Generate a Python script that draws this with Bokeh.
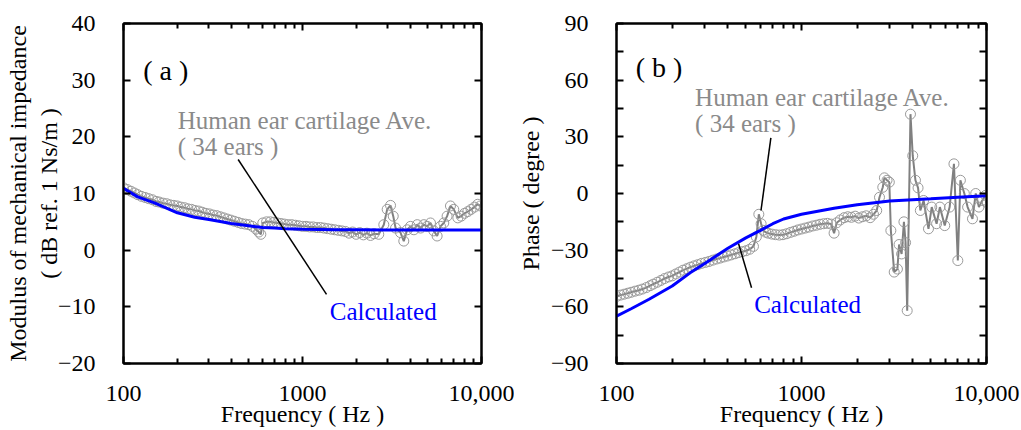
from bokeh.plotting import figure
from bokeh.layouts import row
from bokeh.models import LinearAxis, LogAxis, FixedTicker, Label, Range1d, CustomJSTickFormatter
from bokeh.embed import file_html
from bokeh.resources import INLINE

FONT = "Liberation Serif"

# ---------------- data ----------------
# (a) modulus of mechanical impedance, measured average (34 ears)
meas_a_freq = [100, 105, 110, 115, 120, 126, 132, 138, 145, 152, 158, 166, 174, 182, 191,
               200, 209, 219, 229, 240, 251, 263, 275, 288, 302, 316, 331, 347, 363, 380,
               398, 417, 437, 457, 479, 501, 525, 550, 570, 585, 600, 630, 661, 692, 724,
               759, 794, 832, 871, 912, 955, 1000, 1047, 1096, 1148, 1202, 1259, 1318, 1380,
               1445, 1514, 1585, 1660, 1738, 1820, 1905, 1995, 2089, 2188, 2291, 2399, 2512,
               2667, 2846, 2972, 3103, 3213, 3311, 3527, 3680, 3845, 4012, 4190, 4375, 4565,
               4765, 4970, 5188, 5417, 5650, 5900, 6155, 6425, 6707, 6998, 7376, 7697, 8035,
               8380, 8747, 9131, 9527, 9860]
meas_a_db = [11.0, 10.7, 10.4, 10.1, 9.8, 9.5, 9.3, 9.1, 8.9, 8.6, 8.5, 8.3, 8.2, 8.0, 7.9,
             7.8, 7.6, 7.5, 7.3, 7.2, 7.0, 6.9, 6.7, 6.5, 6.4, 6.2, 6.1, 5.9, 5.7, 5.5,
             5.3, 5.1, 4.9, 4.7, 4.6, 4.5, 4.2, 3.7, 3.2, 2.8, 4.8, 5.0, 5.0, 4.9, 4.8,
             4.7, 4.6, 4.5, 4.5, 4.4, 4.3, 4.2, 4.2, 4.1, 4.1, 4.0, 4.0, 3.9, 3.8,
             3.7, 3.6, 3.5, 3.4, 3.3, 3.0, 3.2, 2.8, 3.1, 2.7, 3.0, 2.6, 2.9,
             2.8, 4.5, 7.2, 7.9, 6.0, 3.9, 3.1, 1.6, 3.6, 4.2, 3.6, 4.5, 3.9,
             4.5, 4.2, 4.8, 3.4, 2.5, 4.2, 4.8, 6.0, 7.8, 7.2, 5.7, 6.0, 6.5,
             6.8, 7.2, 7.6, 8.1, 7.8]

# (b) phase, measured average (34 ears)
meas_b_freq = [100, 105, 110, 115, 120, 126, 132, 138, 145, 152, 158, 166, 174, 182, 191,
               200, 209, 219, 229, 240, 251, 263, 275, 288, 302, 316, 331, 347, 363, 380,
               398, 417, 437, 457, 479, 501, 525, 550, 570, 588, 605, 620, 640, 661, 692,
               724, 759, 794, 832, 871, 912, 955, 1000, 1047, 1096, 1148, 1202, 1259, 1318,
               1380, 1445, 1500, 1550, 1620, 1700, 1780, 1860, 1950, 2040, 2140, 2240, 2350,
               2450, 2550, 2640, 2750, 2806, 2900, 2983, 3041, 3170, 3300, 3368, 3477, 3578,
               3653, 3727, 3882, 3993, 4130, 4266, 4389, 4571, 4857, 5058, 5373, 5598, 5946,
               6321, 6668, 6998, 7226, 7589, 7906, 8397, 8746, 9099, 9484, 9886, 10100]
meas_b_deg = [-54.5, -53.8, -53.3, -52.8, -52.3, -51.7, -51.2, -50.6, -49.8, -48.8, -48.0, -47.0,
              -46.0, -45.0, -44.2, -43.6, -42.6, -41.6, -40.6, -39.8, -39.0, -38.3, -37.7, -37.0,
              -36.5, -36.0, -35.3, -34.7, -34.2, -33.6, -33.1, -32.5, -31.9, -31.3, -30.8, -30.3,
              -29.5, -28.0, -23.0, -11.0, -16.0, -19.5, -20.5, -21.0, -21.5, -21.8, -22.0, -21.8,
              -21.3, -20.6, -20.0, -19.3, -18.8, -18.3, -17.8, -17.2, -16.8, -16.3, -16.0, -15.8,
              -16.2, -21.0, -15.5, -14.0, -12.8, -12.3, -12.6, -12.0, -13.0, -12.3, -11.8, -12.8,
              -11.0, -9.0, -2.0, 3.3, 8.3, 7.0, 6.0, -19.6, -41.6, -40.0, -27.0, -32.0, -15.0,
              -26.0, -62.0, 42.0, 20.0, 7.0, 3.0, -9.0, -3.7, -18.7, -7.2, -16.0, -7.2, -17.0,
              -7.2, 15.7, -35.5, 7.0, 0.0, -7.2, -13.4, 0.0, -7.2, -3.7, -1.0, -5.0]

# calculated
calc_freq = [100, 120, 150, 200, 250, 300, 400, 500, 600, 700, 800, 1000, 1500, 2000,
             3000, 5000, 7000, 10000]
calc_a_db = [10.9, 9.4, 8.3, 6.6, 5.8, 5.4, 4.7, 4.3, 4.0, 3.9, 3.8, 3.7, 3.6, 3.6,
             3.55, 3.55, 3.55, 3.55]
calc_b_deg = [-65.0, -61.0, -56.0, -49.0, -42.0, -37.0, -29.0, -23.5, -19.5, -16.0, -13.5,
              -11.0, -7.8, -6.0, -4.0, -2.8, -2.0, -1.2]

# axes ticks / labels
x_major = [100, 1000, 10000]
x_minor = [200, 300, 400, 500, 600, 700, 800, 900, 2000, 3000, 4000, 5000, 6000, 7000, 8000, 9000]
x_labels = ["100", "1000", "10,000"]
ya_ticks = [-20, -10, 0, 10, 20, 30, 40]
yb_ticks = [-90, -75, -60, -45, -30, -15, 0, 15, 30, 45, 60, 75, 90]
yb_labeled = [-90, -60, -30, 0, 30, 60, 90]

GRAY_LINE = "#808080"
GRAY_MARK = "#9a9a9a"
BLUE = "#0000ff"
TXT_GRAY = "#8a8a8a"


def fmt(v):
    v = int(v)
    return ("\u2212" + str(-v)) if v < 0 else str(v)


def blank_fmt():
    return CustomJSTickFormatter(code="return '';")


def x_fmt():
    return CustomJSTickFormatter(args=dict(xvals=x_major, xlabs=x_labels), code="""
        for (let i = 0; i < xvals.length; i++) {
            if (Math.abs(Math.log10(xvals[i]) - Math.log10(tick)) < 1e-6) return xlabs[i];
        }
        return '';
    """)


def style_axes(p, yticks, ylabels, ylabel, ylabel_standoff):
    xt = FixedTicker(ticks=x_major, minor_ticks=x_minor)
    yt = FixedTicker(ticks=yticks)
    bottom = p.xaxis[0]
    left = p.yaxis[0]
    bottom.ticker = xt
    left.ticker = yt
    top = LogAxis(ticker=xt, formatter=blank_fmt())
    right = LinearAxis(ticker=yt, formatter=blank_fmt())
    p.add_layout(top, "above")
    p.add_layout(right, "right")
    for ax in [bottom, left, top, right]:
        ax.axis_line_color = "black"
        ax.axis_line_width = 2
        ax.major_tick_line_color = "black"
        ax.major_tick_line_width = 2
        ax.minor_tick_line_color = "black"
        ax.minor_tick_line_width = 2
        ax.major_tick_in = 7
        ax.major_tick_out = 0
        ax.minor_tick_in = 5
        ax.minor_tick_out = 0
        ax.major_label_text_font = FONT
        ax.major_label_text_font_size = "24px"
        ax.major_label_text_color = "black"
        ax.axis_label_text_font = FONT
        ax.axis_label_text_font_size = "24px"
        ax.axis_label_text_font_style = "normal"
        ax.axis_label_text_color = "black"
    top.major_label_standoff = 0
    right.major_label_standoff = 0
    bottom.formatter = x_fmt()
    bottom.major_label_standoff = 22
    bottom.axis_label = "Frequency ( Hz )"
    bottom.axis_label_standoff = -3
    left.major_label_standoff = 28
    left.major_label_overrides = ylabels
    left.axis_label = ylabel
    left.axis_label_standoff = ylabel_standoff
    left.axis_label_text_align = "center"


def make_fig(width, left, right, yr):
    p = figure(width=width, height=430, x_axis_type="log",
               x_range=Range1d(100, 10000), y_range=Range1d(*yr),
               output_backend="svg", toolbar_location=None,
               min_border_left=left, min_border_right=right,
               min_border_top=23, min_border_bottom=67)
    p.xgrid.visible = False
    p.ygrid.visible = False
    p.outline_line_color = "black"
    p.outline_line_width = 2
    p.background_fill_color = "white"
    p.border_fill_color = "white"
    return p


def txt(p, x, y, s, color="black", size="25px"):
    p.add_layout(Label(x=x, y=y, text=s, text_font=FONT, text_font_size=size,
                       text_color=color, text_align="left", text_baseline="alphabetic"))


# ---------------- panel (a) ----------------
pa = make_fig(514, 123, 33, (-20, 40))
style_axes(pa, ya_ticks, {v: fmt(v) for v in ya_ticks},
           "Modulus of mechanical impedance\n( dB ref. 1 Ns/m )", -7)

pa.line(meas_a_freq, meas_a_db, line_color=GRAY_LINE, line_width=2)
pa.scatter(meas_a_freq, meas_a_db, marker="circle", size=10, fill_color=None,
           line_color=GRAY_MARK, line_width=1)
pa.line(calc_freq, calc_a_db, line_color=BLUE, line_width=3)
pa.segment(x0=[437], y0=[16.0], x1=[1362], y1=[-7.8], line_color="black", line_width=1.5)

txt(pa, 129, 31.7, "( a )", size="28px")
txt(pa, 201, 22.9, "Human ear cartilage Ave.", color=TXT_GRAY)
txt(pa, 201, 18.3, "( 34 ears )", color=TXT_GRAY)
txt(pa, 1420, -10.8, "Calculated", color=BLUE)

# ---------------- panel (b) ----------------
pb = make_fig(507, 94, 35, (-90, 90))
style_axes(pb, yb_ticks, {v: (fmt(v) if v in yb_labeled else "") for v in yb_ticks},
           "Phase ( degree )", 4)

pb.line(meas_b_freq, meas_b_deg, line_color=GRAY_LINE, line_width=2)
pb.scatter(meas_b_freq, meas_b_deg, marker="circle", size=10, fill_color=None,
           line_color=GRAY_MARK, line_width=1)
pb.line(calc_freq, calc_b_deg, line_color=BLUE, line_width=3)
pb.segment(x0=[683, 457], y0=[29.5, -26.6], x1=[604, 537], y1=[-9.0, -49.9],
           line_color="black", line_width=1.5)

txt(pb, 127, 66.9, "( b )", size="28px")
txt(pb, 266, 51.0, "Human ear cartilage Ave.", color=TXT_GRAY)
txt(pb, 266, 37.0, "( 34 ears )", color=TXT_GRAY)
txt(pb, 555, -58.8, "Calculated", color=BLUE)

layout = row(pa, pb)
open("out.html", "w").write(file_html(layout, INLINE))
